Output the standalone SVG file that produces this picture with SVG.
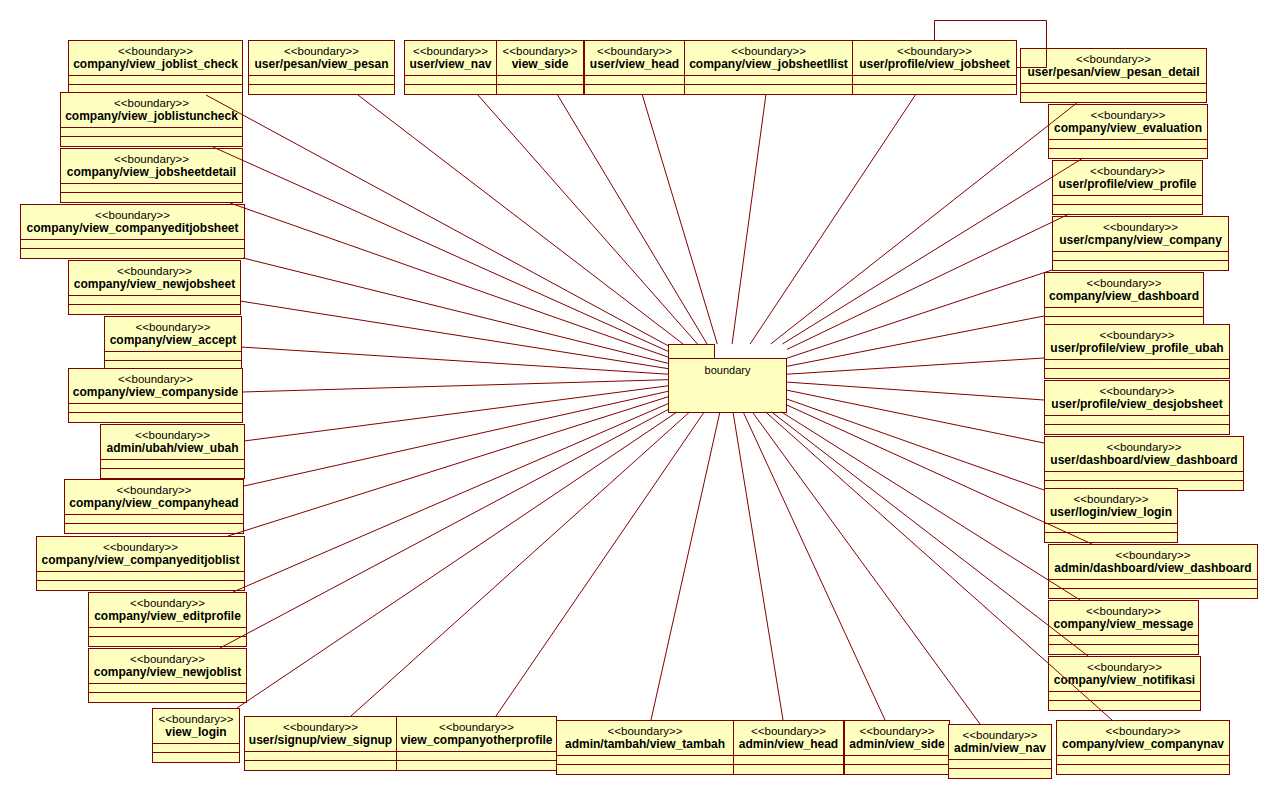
<svg xmlns="http://www.w3.org/2000/svg" width="1277" height="799" viewBox="0 0 1277 799">
<style>
.node rect{fill:#FFFFC0;stroke:#800000;stroke-width:1}
.node path{fill:none;stroke:#800000;stroke-width:1}
.st{font-family:"Liberation Sans",Arial,sans-serif;font-size:11.5px;text-anchor:middle;fill:#000}
.nm{font-family:"Liberation Sans",Arial,sans-serif;font-size:12px;font-weight:bold;text-anchor:middle;fill:#000}
.pk rect{fill:#FFFFC0;stroke:#800000;stroke-width:1}
.pl{font-family:"Liberation Sans",Arial,sans-serif;font-size:11px;text-anchor:middle;fill:#000}
#connectors line,#connectors polyline{stroke:#800000;stroke-width:1;fill:none}
</style>
<rect width="1277" height="799" fill="#fff"/>
<g id="nodes">
<g id="n_joblist_check" class="node" transform="translate(68.5,40.5)"><rect width="174" height="54"/><path d="M0 35H174M0 44H174"/><text class="st" x="87" y="14">&lt;&lt;boundary&gt;&gt;</text><text class="nm" x="87" y="27">company/view_joblist_check</text></g>
<g id="n_view_pesan" class="node" transform="translate(248.5,40.5)"><rect width="146" height="54"/><path d="M0 35H146M0 44H146"/><text class="st" x="73" y="14">&lt;&lt;boundary&gt;&gt;</text><text class="nm" x="73" y="27">user/pesan/view_pesan</text></g>
<g id="n_user_view_nav" class="node" transform="translate(404.5,40.5)"><rect width="92" height="54"/><path d="M0 35H92M0 44H92"/><text class="st" x="46" y="14">&lt;&lt;boundary&gt;&gt;</text><text class="nm" x="46" y="27">user/view_nav</text></g>
<g id="n_view_side" class="node" transform="translate(496.5,40.5)"><rect width="87" height="54"/><path d="M0 35H87M0 44H87"/><text class="st" x="43.5" y="14">&lt;&lt;boundary&gt;&gt;</text><text class="nm" x="43.5" y="27">view_side</text></g>
<g id="n_user_view_head" class="node" transform="translate(584.5,40.5)"><rect width="100" height="54"/><path d="M0 35H100M0 44H100"/><text class="st" x="50" y="14">&lt;&lt;boundary&gt;&gt;</text><text class="nm" x="50" y="27">user/view_head</text></g>
<g id="n_jobsheetllist" class="node" transform="translate(684.5,40.5)"><rect width="168" height="54"/><path d="M0 35H168M0 44H168"/><text class="st" x="84" y="14">&lt;&lt;boundary&gt;&gt;</text><text class="nm" x="84" y="27">company/view_jobsheetllist</text></g>
<g id="n_profile_jobsheet" class="node" transform="translate(852.5,40.5)"><rect width="164" height="54"/><path d="M0 35H164M0 44H164"/><text class="st" x="82" y="14">&lt;&lt;boundary&gt;&gt;</text><text class="nm" x="82" y="27">user/profile/view_jobsheet</text></g>
<g id="n_pesan_detail" class="node" transform="translate(1020.5,48.5)"><rect width="186" height="54"/><path d="M0 35H186M0 44H186"/><text class="st" x="93" y="14">&lt;&lt;boundary&gt;&gt;</text><text class="nm" x="93" y="27">user/pesan/view_pesan_detail</text></g>
<g id="n_evaluation" class="node" transform="translate(1048.5,104.5)"><rect width="159" height="54"/><path d="M0 35H159M0 44H159"/><text class="st" x="79.5" y="14">&lt;&lt;boundary&gt;&gt;</text><text class="nm" x="79.5" y="27">company/view_evaluation</text></g>
<g id="n_view_profile" class="node" transform="translate(1052.5,160.5)"><rect width="150" height="54"/><path d="M0 35H150M0 44H150"/><text class="st" x="75" y="14">&lt;&lt;boundary&gt;&gt;</text><text class="nm" x="75" y="27">user/profile/view_profile</text></g>
<g id="n_view_company" class="node" transform="translate(1052.5,216.5)"><rect width="176" height="54"/><path d="M0 35H176M0 44H176"/><text class="st" x="88" y="14">&lt;&lt;boundary&gt;&gt;</text><text class="nm" x="88" y="27">user/cmpany/view_company</text></g>
<g id="n_company_dashboard" class="node" transform="translate(1044.5,272.5)"><rect width="159" height="54"/><path d="M0 35H159M0 44H159"/><text class="st" x="79.5" y="14">&lt;&lt;boundary&gt;&gt;</text><text class="nm" x="79.5" y="27">company/view_dashboard</text></g>
<g id="n_profile_ubah" class="node" transform="translate(1044.5,324.5)"><rect width="185" height="54"/><path d="M0 35H185M0 44H185"/><text class="st" x="92.5" y="14">&lt;&lt;boundary&gt;&gt;</text><text class="nm" x="92.5" y="27">user/profile/view_profile_ubah</text></g>
<g id="n_desjobsheet" class="node" transform="translate(1044.5,380.5)"><rect width="185" height="54"/><path d="M0 35H185M0 44H185"/><text class="st" x="92.5" y="14">&lt;&lt;boundary&gt;&gt;</text><text class="nm" x="92.5" y="27">user/profile/view_desjobsheet</text></g>
<g id="n_user_dashboard" class="node" transform="translate(1044.5,436.5)"><rect width="199" height="54"/><path d="M0 35H199M0 44H199"/><text class="st" x="99.5" y="14">&lt;&lt;boundary&gt;&gt;</text><text class="nm" x="99.5" y="27">user/dashboard/view_dashboard</text></g>
<g id="n_user_login" class="node" transform="translate(1044.5,488.5)"><rect width="133" height="54"/><path d="M0 35H133M0 44H133"/><text class="st" x="66.5" y="14">&lt;&lt;boundary&gt;&gt;</text><text class="nm" x="66.5" y="27">user/login/view_login</text></g>
<g id="n_admin_dashboard" class="node" transform="translate(1048.5,544.5)"><rect width="209" height="54"/><path d="M0 35H209M0 44H209"/><text class="st" x="104.5" y="14">&lt;&lt;boundary&gt;&gt;</text><text class="nm" x="104.5" y="27">admin/dashboard/view_dashboard</text></g>
<g id="n_message" class="node" transform="translate(1048.5,600.5)"><rect width="150" height="54"/><path d="M0 35H150M0 44H150"/><text class="st" x="75" y="14">&lt;&lt;boundary&gt;&gt;</text><text class="nm" x="75" y="27">company/view_message</text></g>
<g id="n_notifikasi" class="node" transform="translate(1048.5,656.5)"><rect width="152" height="54"/><path d="M0 35H152M0 44H152"/><text class="st" x="76" y="14">&lt;&lt;boundary&gt;&gt;</text><text class="nm" x="76" y="27">company/view_notifikasi</text></g>
<g id="n_companynav" class="node" transform="translate(1056.5,720.5)"><rect width="173" height="54"/><path d="M0 35H173M0 44H173"/><text class="st" x="86.5" y="14">&lt;&lt;boundary&gt;&gt;</text><text class="nm" x="86.5" y="27">company/view_companynav</text></g>
<g id="n_admin_side" class="node" transform="translate(844.5,720.5)"><rect width="105" height="54"/><path d="M0 35H105M0 44H105"/><text class="st" x="52.5" y="14">&lt;&lt;boundary&gt;&gt;</text><text class="nm" x="52.5" y="27">admin/view_side</text></g>
<g id="n_admin_nav" class="node" transform="translate(948.5,724.5)"><rect width="103" height="54"/><path d="M0 35H103M0 44H103"/><text class="st" x="51.5" y="14">&lt;&lt;boundary&gt;&gt;</text><text class="nm" x="51.5" y="27">admin/view_nav</text></g>
<g id="n_admin_head" class="node" transform="translate(733.5,720.5)"><rect width="110" height="54"/><path d="M0 35H110M0 44H110"/><text class="st" x="55" y="14">&lt;&lt;boundary&gt;&gt;</text><text class="nm" x="55" y="27">admin/view_head</text></g>
<g id="n_tambah" class="node" transform="translate(556.5,720.5)"><rect width="177" height="54"/><path d="M0 35H177M0 44H177"/><text class="st" x="88.5" y="14">&lt;&lt;boundary&gt;&gt;</text><text class="nm" x="88.5" y="27">admin/tambah/view_tambah</text></g>
<g id="n_otherprofile" class="node" transform="translate(396.5,716.5)"><rect width="160" height="54"/><path d="M0 35H160M0 44H160"/><text class="st" x="80" y="14">&lt;&lt;boundary&gt;&gt;</text><text class="nm" x="80" y="27">view_companyotherprofile</text></g>
<g id="n_signup" class="node" transform="translate(244.5,716.5)"><rect width="152" height="54"/><path d="M0 35H152M0 44H152"/><text class="st" x="76" y="14">&lt;&lt;boundary&gt;&gt;</text><text class="nm" x="76" y="27">user/signup/view_signup</text></g>
<g id="n_view_login" class="node" transform="translate(152.5,708.5)"><rect width="87" height="54"/><path d="M0 35H87M0 44H87"/><text class="st" x="43.5" y="14">&lt;&lt;boundary&gt;&gt;</text><text class="nm" x="43.5" y="27">view_login</text></g>
<g id="n_joblistuncheck" class="node" transform="translate(60.5,92.5)"><rect width="182" height="54"/><path d="M0 35H182M0 44H182"/><text class="st" x="91" y="14">&lt;&lt;boundary&gt;&gt;</text><text class="nm" x="91" y="27">company/view_joblistuncheck</text></g>
<g id="n_jobsheetdetail" class="node" transform="translate(60.5,148.5)"><rect width="182" height="54"/><path d="M0 35H182M0 44H182"/><text class="st" x="91" y="14">&lt;&lt;boundary&gt;&gt;</text><text class="nm" x="91" y="27">company/view_jobsheetdetail</text></g>
<g id="n_companyeditjobsheet" class="node" transform="translate(20.5,204.5)"><rect width="224" height="54"/><path d="M0 35H224M0 44H224"/><text class="st" x="112" y="14">&lt;&lt;boundary&gt;&gt;</text><text class="nm" x="112" y="27">company/view_companyeditjobsheet</text></g>
<g id="n_newjobsheet" class="node" transform="translate(68.5,260.5)"><rect width="172" height="54"/><path d="M0 35H172M0 44H172"/><text class="st" x="86" y="14">&lt;&lt;boundary&gt;&gt;</text><text class="nm" x="86" y="27">company/view_newjobsheet</text></g>
<g id="n_accept" class="node" transform="translate(104.5,316.5)"><rect width="137" height="54"/><path d="M0 35H137M0 44H137"/><text class="st" x="68.5" y="14">&lt;&lt;boundary&gt;&gt;</text><text class="nm" x="68.5" y="27">company/view_accept</text></g>
<g id="n_companyside" class="node" transform="translate(68.5,368.5)"><rect width="174" height="54"/><path d="M0 35H174M0 44H174"/><text class="st" x="87" y="14">&lt;&lt;boundary&gt;&gt;</text><text class="nm" x="87" y="27">company/view_companyside</text></g>
<g id="n_ubah" class="node" transform="translate(100.5,424.5)"><rect width="144" height="54"/><path d="M0 35H144M0 44H144"/><text class="st" x="72" y="14">&lt;&lt;boundary&gt;&gt;</text><text class="nm" x="72" y="27">admin/ubah/view_ubah</text></g>
<g id="n_companyhead" class="node" transform="translate(64.5,479.5)"><rect width="179" height="54"/><path d="M0 35H179M0 44H179"/><text class="st" x="89.5" y="14">&lt;&lt;boundary&gt;&gt;</text><text class="nm" x="89.5" y="27">company/view_companyhead</text></g>
<g id="n_companyeditjoblist" class="node" transform="translate(36.5,536.5)"><rect width="208" height="54"/><path d="M0 35H208M0 44H208"/><text class="st" x="104" y="14">&lt;&lt;boundary&gt;&gt;</text><text class="nm" x="104" y="27">company/view_companyeditjoblist</text></g>
<g id="n_editprofile" class="node" transform="translate(88.5,592.5)"><rect width="158" height="54"/><path d="M0 35H158M0 44H158"/><text class="st" x="79" y="14">&lt;&lt;boundary&gt;&gt;</text><text class="nm" x="79" y="27">company/view_editprofile</text></g>
<g id="n_newjoblist" class="node" transform="translate(88.5,648.5)"><rect width="158" height="54"/><path d="M0 35H158M0 44H158"/><text class="st" x="79" y="14">&lt;&lt;boundary&gt;&gt;</text><text class="nm" x="79" y="27">company/view_newjoblist</text></g>
<g id="p_boundary" class="pk"><rect x="668.5" y="344.5" width="46" height="14"/><rect x="668.5" y="358.5" width="118" height="54"/><text class="pl" x="727.5" y="374">boundary</text></g>
</g>
<g id="connectors">
<line x1="206" y1="95" x2="668" y2="345.7"/>
<line x1="358" y1="95" x2="683.1" y2="344"/>
<line x1="477" y1="94" x2="697.5" y2="344"/>
<line x1="557" y1="94" x2="707.1" y2="344"/>
<line x1="642" y1="94" x2="717.3" y2="344"/>
<line x1="766" y1="94" x2="732.1" y2="344"/>
<line x1="916" y1="94" x2="750.1" y2="344"/>
<line x1="1078" y1="102" x2="770.7" y2="344"/>
<line x1="1083" y1="158" x2="782.4" y2="344"/>
<line x1="1069" y1="214" x2="787" y2="349.4"/>
<line x1="1052" y1="270" x2="787" y2="358.2"/>
<line x1="1044" y1="316" x2="787" y2="366.3"/>
<line x1="1044" y1="358" x2="787" y2="374.2"/>
<line x1="1044" y1="400" x2="787" y2="382.1"/>
<line x1="1044" y1="443" x2="787" y2="390.2"/>
<line x1="1044" y1="490" x2="787" y2="399.1"/>
<line x1="1092" y1="544" x2="787" y2="405.1"/>
<line x1="1080" y1="600" x2="781.5" y2="412"/>
<line x1="1088" y1="656" x2="771.6" y2="412"/>
<line x1="1112" y1="720" x2="765.7" y2="412"/>
<line x1="980" y1="724" x2="752.3" y2="412"/>
<line x1="885" y1="720" x2="743.2" y2="412"/>
<line x1="783" y1="720" x2="733" y2="412"/>
<line x1="651" y1="720" x2="719.9" y2="412"/>
<line x1="496" y1="716" x2="704.2" y2="412"/>
<line x1="351" y1="716" x2="689.6" y2="412"/>
<line x1="237" y1="708" x2="677" y2="412"/>
<line x1="220" y1="648" x2="668" y2="409.6"/>
<line x1="233" y1="592" x2="668" y2="403.7"/>
<line x1="228" y1="536" x2="668" y2="396.8"/>
<line x1="244" y1="486" x2="668" y2="391.3"/>
<line x1="244" y1="441" x2="668" y2="385.8"/>
<line x1="242" y1="392" x2="668" y2="379.7"/>
<line x1="241" y1="347" x2="668" y2="374.2"/>
<line x1="240" y1="301" x2="668" y2="368.6"/>
<line x1="243" y1="258" x2="668" y2="363.3"/>
<line x1="230" y1="203" x2="668" y2="357.1"/>
<line x1="213" y1="147" x2="668" y2="351.3"/>
<polyline points="934.5,40 934.5,20.5 1046.5,20.5 1046.5,67.5 1016,67.5"/>
</g>
</svg>
